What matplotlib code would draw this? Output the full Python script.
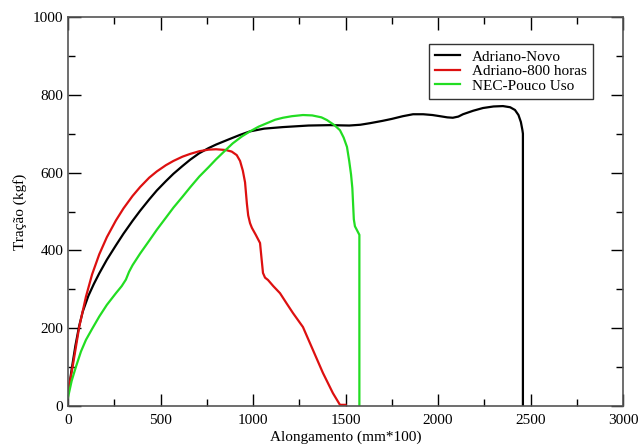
import matplotlib.pyplot as plt
from matplotlib.ticker import MultipleLocator

# Adriano-Novo
novo_x = [0, 20, 40, 60, 80, 110, 140, 169, 210, 259, 300, 349, 390, 439, 480, 529, 570, 619, 660,
          710, 760, 800, 872, 930, 984, 1060, 1162, 1300, 1416, 1520, 1580, 1632, 1700, 1750, 1810,
          1865, 1920, 1970, 2011, 2050, 2080, 2110, 2135, 2190, 2243, 2300, 2351, 2390, 2416, 2435,
          2448, 2456, 2459, 2459]
novo_y = [30, 95, 155, 205, 243, 283, 314, 341, 376, 413, 443, 476, 502, 531, 554, 578, 597, 617, 633,
          650, 663, 672, 686, 697, 706, 713, 717, 721, 722, 721, 723, 727, 733, 738, 745,
          750, 750, 748, 745, 742, 741, 744, 750, 759, 766, 770, 771, 768, 761, 748,
          730, 710, 700, 0]

# Adriano-800 horas
h800_x = [0, 25, 61, 97, 130, 169, 210, 259, 300, 349, 390, 439, 480, 529, 570, 619, 660, 710, 760,
          800, 854, 885, 912, 930, 945, 957, 967, 974, 984, 994, 1015, 1038, 1046, 1054, 1065, 1081,
          1110, 1146, 1180, 1216, 1270, 1324, 1378, 1432, 1470, 1500]
h800_y = [33, 101, 204, 281, 338, 390, 434, 477, 508, 540, 563, 587, 603, 619, 630, 641, 648, 655, 659,
          660, 658, 654, 645, 630, 605, 575, 520, 490, 470, 458, 440, 419, 380, 342, 330, 324,
          308, 290, 265, 239, 203, 144, 85, 33, 3, 3]

# NEC-Pouco Uso
nec_x = [0, 20, 43, 70, 97, 130, 169, 210, 259, 290, 313, 330, 349, 390, 439, 480, 529, 570, 619, 660,
         710, 760, 800, 850, 890, 940, 984, 1030, 1080, 1120, 1162, 1210, 1270, 1320, 1370, 1400,
         1440, 1470, 1490, 1508, 1520, 1530, 1537, 1541, 1545, 1551, 1562, 1575, 1575]
nec_y = [22, 65, 101, 140, 170, 198, 230, 260, 290, 308, 325, 345, 362, 392, 425, 453, 484, 510, 538, 562,
         590, 614, 634, 657, 675, 693, 706, 718, 728, 736, 741, 745, 748, 747, 742, 735,
         722, 709, 690, 666, 630, 595, 560, 520, 480, 462, 452, 440, 0]

fig = plt.figure(figsize=(6.43, 4.46), dpi=100)
ax = fig.add_axes([68/643, 40/446, 555/643, 389/446])

ax.plot(novo_x, novo_y, color='black', lw=1.6, label='Adriano-Novo')
ax.plot(h800_x, h800_y, color='#dd1010', lw=1.6, label='Adriano-800 horas')
ax.plot(nec_x, nec_y, color='#22dd22', lw=1.6, label='NEC-Pouco Uso')

ax.set_xlim(0, 3000)
ax.set_ylim(0, 1000)
ax.xaxis.set_major_locator(MultipleLocator(500))
ax.xaxis.set_minor_locator(MultipleLocator(250))
ax.yaxis.set_major_locator(MultipleLocator(200))
ax.yaxis.set_minor_locator(MultipleLocator(100))
ax.tick_params(which='both', direction='in', top=True, right=True, colors='black',
               labelsize=11, width=1)
ax.tick_params(which='major', length=9)
ax.tick_params(axis='x', which='both', pad=6)
ax.tick_params(which='minor', length=5)
for lab in ax.get_xticklabels() + ax.get_yticklabels():
    lab.set_family('Liberation Serif')
for s in ax.spines.values():
    s.set_color('#555555')
    s.set_linewidth(1.2)

ax.set_xlabel('Alongamento (mm*100)', family='Liberation Serif', fontsize=11, labelpad=2)
ax.set_ylabel('Tração (kgf)', family='Liberation Serif', fontsize=11, labelpad=4)

leg = ax.legend(loc='upper left', bbox_to_anchor=(361/555, 1 - 27/389),
                prop={'family': 'Liberation Serif', 'size': 11}, frameon=True, fancybox=False,
                handlelength=1.6, handletextpad=0.8, labelspacing=0.05, borderpad=0.4,
                borderaxespad=0)
leg.get_frame().set_edgecolor('black')
leg.get_frame().set_linewidth(1)

fig.savefig('out.png', dpi=100)
